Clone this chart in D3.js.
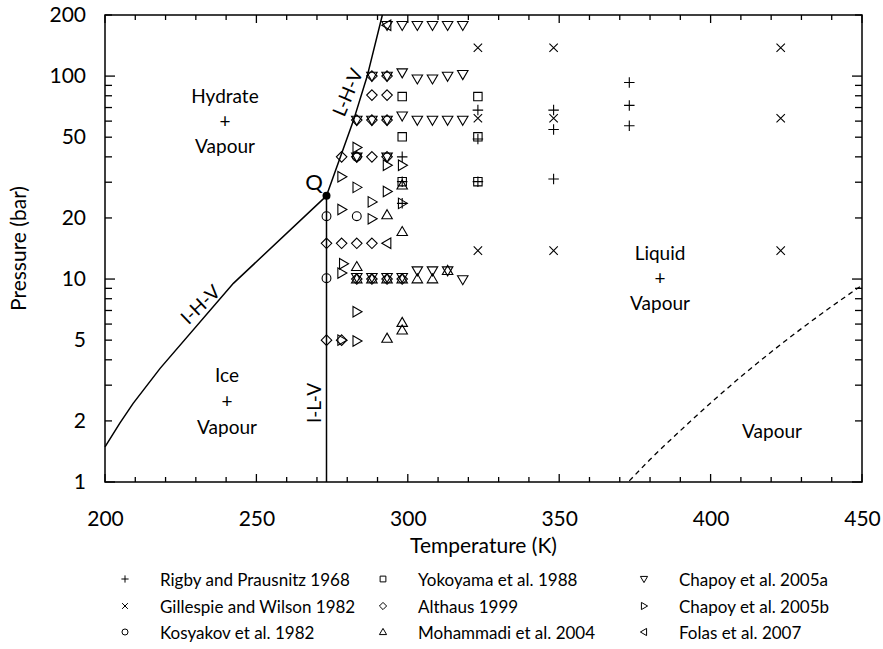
<!DOCTYPE html>
<html>
<head>
<meta charset="utf-8">
<script src="https://cdn.jsdelivr.net/npm/d3@7/dist/d3.min.js"></script>
<style>
  html, body { margin: 0; padding: 0; background: #fff; }
  svg { display: block; font-family: "Lato", "Open Sans", sans-serif; }
  text { fill: #000; }
</style>
</head>
<body>
<svg id="chart" width="883" height="649"></svg>
<script>
// ---- Phase boundaries (temperature in K, pressure in bar) ----
const ihvT = [200.0, 204.9, 209.3, 218.2, 242.4, 273.15];
const ihvP = [1.49, 1.95, 2.44, 3.63, 9.52, 25.7];

const lhvT = [273.15, 282.1, 286.6, 291.6];
const lhvP = [25.7, 60.7, 100, 200];

const ilvT = [273.15, 273.15];
const ilvP = [1, 25.7];

const waterT = [373.15, 380, 390, 400, 410, 420, 430, 440, 450];
const waterP = [1.013, 1.29, 1.79, 2.45, 3.30, 4.37, 5.70, 7.33, 9.32];

const quadT = 273.15, quadP = 25.7;

// ---- Experimental data sets ----
const rigbyT = [298.15, 298.15, 298.15, 323.15, 323.15, 323.15, 348.15, 348.15, 348.15, 373.15, 373.15, 373.15];
const rigbyP = [40.0, 30.2, 23.6, 68.0, 49.0, 30.2, 68.0, 54.6, 31.1, 93.0, 71.7, 56.9];

const gillespieT = [323.15, 323.15, 323.15, 348.15, 348.15, 348.15, 423.15, 423.15, 423.15];
const gillespieP = [13.8, 62.0, 137.9, 13.8, 62.0, 137.9, 13.8, 62.0, 137.9];

const kosyakovT = [273.15, 273.15, 283.15, 283.15];
const kosyakovP = [20.4, 10.1, 20.4, 40.0];

const yokoyamaT = [298.15, 298.15, 298.15, 323.15, 323.15, 323.15];
const yokoyamaP = [79.3, 50.2, 30.2, 79.3, 50.2, 30.2];

const althausT = [273.15, 273.15, 278.15, 278.15, 278.15, 283.15, 283.15, 283.15, 283.15,
                  288.15, 288.15, 288.15, 288.15, 288.15, 288.15, 293.15, 293.15, 293.15, 293.15, 293.15, 298.15];
const althausP = [15.0, 5.0, 40.0, 15.0, 5.0, 60.7, 40.0, 15.0, 10.0,
                  100.0, 80.6, 60.7, 40.0, 15.0, 10.0, 100.0, 80.6, 60.7, 40.0, 10.0, 10.0];

const mohammadiT = [283.15, 283.15, 288.15, 293.15, 298.15, 303.15, 308.15, 313.15,
                    293.15, 298.15, 298.15, 293.15, 298.15, 298.15];
const mohammadiP = [11.5, 10.0, 10.0, 10.0, 10.0, 10.0, 10.0, 11.0,
                    20.7, 17.1, 29.0, 5.1, 6.1, 5.6];

const chapoyAT = [293.15, 298.15, 303.15, 308.15, 313.15, 318.15,
                  288.15, 293.15, 298.15, 303.15, 308.15, 313.15, 318.15,
                  283.15, 288.15, 293.15, 298.15, 303.15, 308.15, 313.15, 318.15,
                  283.15, 293.15,
                  283.15, 288.15, 293.15, 298.15, 303.15, 308.15, 313.15, 318.15];
const chapoyAP = [178, 178, 178, 178, 178, 178,
                  100, 100, 104, 97, 97, 100, 102,
                  60.7, 60.7, 60.7, 63.7, 60.7, 60.7, 60.7, 60.7,
                  40.0, 40.0,
                  10.2, 10.2, 10.2, 10.2, 11.0, 11.0, 11.0, 9.95];

const chapoyBT = [278.15, 278.15, 278.15, 278.7, 278.15, 283.15, 283.15, 283.15, 283.15,
                  288.15, 288.15, 293.15, 293.15, 298.15, 298.15];
const chapoyBP = [31.9, 22.0, 10.7, 11.9, 5.0, 44.5, 28.3, 6.9, 4.95,
                  24.0, 19.8, 36.4, 27.0, 36.4, 23.6];

const folasT = [293.15, 293.15];
const folasP = [178, 15.0];

// ---- Axis ticks ----
const xLabelTicks = [200, 250, 300, 350, 400, 450];
const yLabelTicks = [1, 2, 5, 10, 20, 50, 100, 200];

// ---- Legend entries ----
const legendNames = [
  "Rigby and Prausnitz 1968", "Gillespie and Wilson 1982", "Kosyakov et al. 1982",
  "Yokoyama et al. 1988", "Althaus 1999", "Mohammadi et al. 2004",
  "Chapoy et al. 2005a", "Chapoy et al. 2005b", "Folas et al. 2007"
];

// ---------------------------------------------------------------
const svg = d3.select("#chart");
const pL = 105, pR = 862, pT = 15, pB = 482;

const x = d3.scaleLinear().domain([200, 450]).range([pL, pR]);
const y = d3.scaleLog().domain([1, 200]).range([pB, pT]);

const zip = (a, b) => a.map((v, i) => [v, b[i]]);

// marker shapes, drawn as paths around (0,0); s scales them
const shapes = {
  plus:  s => `M${-5*s},0H${5*s}M0,${-5*s}V${5*s}`,
  cross: s => `M${-4*s},${-4*s}L${4*s},${4*s}M${-4*s},${4*s}L${4*s},${-4*s}`,
  circle: s => { const r = 4.2*s; return `M${r},0A${r},${r},0,1,1,${-r},0A${r},${r},0,1,1,${r},0Z`; },
  square: s => { const h = 4*s; return `M${-h},${-h}H${h}V${h}H${-h}Z`; },
  diamond: s => `M0,${-5*s}L${5*s},0L0,${5*s}L${-5*s},0Z`,
  up:    s => `M0,${-5*s}L${5*s},${3.6*s}L${-5*s},${3.6*s}Z`,
  down:  s => `M0,${5*s}L${5*s},${-3.6*s}L${-5*s},${-3.6*s}Z`,
  right: s => `M${5*s},0L${-3.6*s},${-5*s}L${-3.6*s},${5*s}Z`,
  leftT: s => `M${-5*s},0L${3.6*s},${-5*s}L${3.6*s},${5*s}Z`
};

const series = [
  { name: legendNames[0], shape: "plus",    pts: zip(rigbyT, rigbyP) },
  { name: legendNames[1], shape: "cross",   pts: zip(gillespieT, gillespieP) },
  { name: legendNames[2], shape: "circle",  pts: zip(kosyakovT, kosyakovP) },
  { name: legendNames[3], shape: "square",  pts: zip(yokoyamaT, yokoyamaP) },
  { name: legendNames[4], shape: "diamond", pts: zip(althausT, althausP) },
  { name: legendNames[5], shape: "up",      pts: zip(mohammadiT, mohammadiP) },
  { name: legendNames[6], shape: "down",    pts: zip(chapoyAT, chapoyAP) },
  { name: legendNames[7], shape: "right",   pts: zip(chapoyBT, chapoyBP) },
  { name: legendNames[8], shape: "leftT",   pts: zip(folasT, folasP) }
];

// ---- Frame and ticks (ticks point inward on all four sides) ----
const gAx = svg.append("g").attr("stroke", "#000").attr("stroke-width", 1.3);

const minorY = [];
for (const dec of [1, 10, 100]) for (let k = 1; k <= 9; k++) { const v = k * dec; if (v <= 200) minorY.push(v); }
const yTickLen = v => (Math.abs(Math.log10(v) - Math.round(Math.log10(v))) < 1e-9 ? 10 : 7);

minorY.forEach(v => {
  const L = yTickLen(v), yy = y(v);
  gAx.append("line").attr("x1", pL).attr("x2", pL + L).attr("y1", yy).attr("y2", yy);
  gAx.append("line").attr("x1", pR).attr("x2", pR - L).attr("y1", yy).attr("y2", yy);
});

d3.range(200, 451, 10).forEach(v => {
  const L = v % 50 === 0 ? 8 : 5, xx = x(v);
  gAx.append("line").attr("x1", xx).attr("x2", xx).attr("y1", pB).attr("y2", pB - L);
  gAx.append("line").attr("x1", xx).attr("x2", xx).attr("y1", pT).attr("y2", pT + L);
});

svg.append("rect").attr("x", pL).attr("y", pT).attr("width", pR - pL).attr("height", pB - pT)
  .attr("fill", "none").attr("stroke", "#000").attr("stroke-width", 1.5);

// tick labels via d3 axes
const tickFont = 21;
const xAxis = d3.axisBottom(x).tickValues(xLabelTicks).tickSize(0).tickPadding(29).tickFormat(d3.format("d"));
svg.append("g").attr("transform", `translate(0,${pB})`).call(xAxis)
  .call(g => g.select(".domain").remove())
  .selectAll("text").attr("font-size", tickFont).attr("font-family", "Lato").attr("fill", "#000");

const yAxis = d3.axisLeft(y).tickValues(yLabelTicks).tickSize(0).tickPadding(19).tickFormat(d3.format("d"));
svg.append("g").attr("transform", `translate(${pL},0)`).call(yAxis)
  .call(g => g.select(".domain").remove())
  .selectAll("text").attr("font-size", tickFont).attr("font-family", "Lato").attr("fill", "#000");

// axis titles
svg.append("text").attr("x", (pL + pR) / 2).attr("y", 553).attr("text-anchor", "middle")
  .attr("font-size", 21).text("Temperature (K)");
svg.append("text").attr("transform", `translate(26,${(pT + pB) / 2}) rotate(-90)`)
  .attr("text-anchor", "middle").attr("font-size", 21).text("Pressure (bar)");

// ---- Phase boundary curves ----
const plot = svg.append("g");
const line = d3.line().x(d => x(d[0])).y(d => y(d[1]));
const curveStyle = sel => sel.attr("fill", "none").attr("stroke", "#000").attr("stroke-width", 1.5);

plot.append("path").datum(zip(ihvT, ihvP)).attr("d", line).call(curveStyle);
plot.append("path").datum(zip(lhvT, lhvP)).attr("d", line).call(curveStyle);
plot.append("path").datum(zip(ilvT, ilvP)).attr("d", line).call(curveStyle);
plot.append("path").datum(zip(waterT, waterP)).attr("d", d3.line().x(d => x(d[0])).y(d => y(d[1])).curve(d3.curveMonotoneX))
  .call(curveStyle).attr("stroke-width", 1.3).attr("stroke-dasharray", "5,4");

plot.append("circle").attr("cx", x(quadT)).attr("cy", y(quadP)).attr("r", 4).attr("fill", "#000");

// ---- Data markers ----
const markers = svg.append("g");
series.forEach(s => {
  markers.selectAll(null).data(s.pts).join("path")
    .attr("transform", d => `translate(${x(d[0])},${y(d[1])})`)
    .attr("d", shapes[s.shape](1.05))
    .attr("fill", "none").attr("stroke", "#000").attr("stroke-width", 1.1);
});

// ---- Region and curve labels ----
const lbl = (tx, ty, str, size = 19, rot = 0) =>
  svg.append("text").attr("transform", `translate(${tx},${ty}) rotate(${rot})`)
    .attr("text-anchor", "middle").attr("dominant-baseline", "central")
    .attr("font-size", size).text(str);

lbl(225, 95, "Hydrate"); lbl(225, 120, "+"); lbl(225, 145, "Vapour");
lbl(227, 374, "Ice"); lbl(227, 400, "+"); lbl(227, 426, "Vapour");
lbl(660, 252, "Liquid"); lbl(660, 277, "+"); lbl(660, 302, "Vapour");
lbl(772, 430, "Vapour");
lbl(314, 181, "Q", 22);
lbl(347, 92, "L-H-V", 19, -67);
lbl(200, 304, "I-H-V", 19, -44);
lbl(313, 403, "I-L-V", 19, -90);

// ---- Legend ----
const legX = [125, 383, 644], legY = [579, 606, 632];
series.forEach((s, i) => {
  const col = Math.floor(i / 3), row = i % 3;
  const g = svg.append("g").attr("transform", `translate(${legX[col]},${legY[row]})`);
  g.append("path").attr("d", shapes[s.shape](0.72)).attr("fill", "none").attr("stroke", "#000").attr("stroke-width", 1);
  g.append("text").attr("x", 35).attr("dominant-baseline", "central").attr("font-size", 17).text(s.name);
});
</script>
</body>
</html>
